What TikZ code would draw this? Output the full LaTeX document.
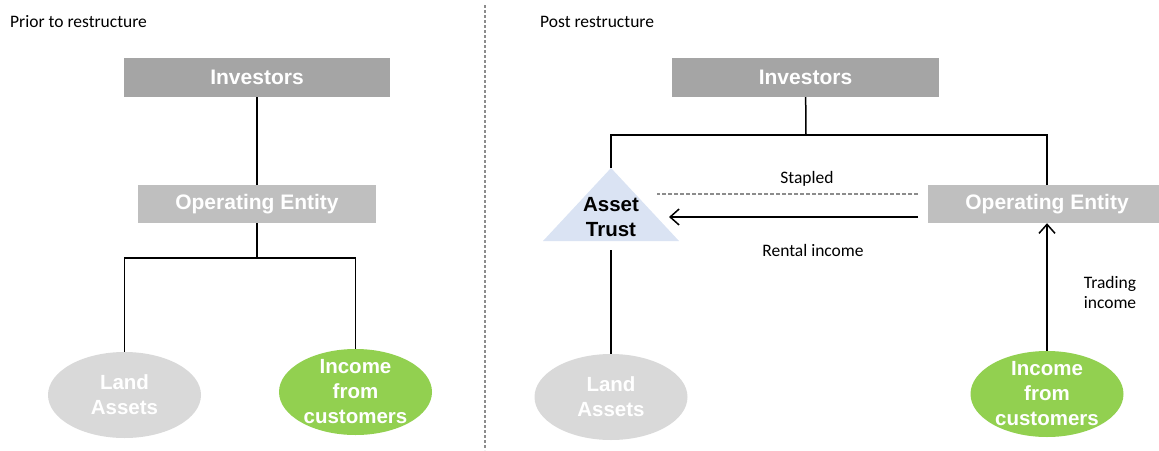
\documentclass[tikz,border=0pt]{standalone}
\usepackage{fontspec}
\setmainfont{Carlito}
\newfontfamily\boxfont{Liberation Sans}
\usetikzlibrary{positioning,arrows.meta,shapes.geometric}

\definecolor{invgray}{HTML}{A5A5A5}
\definecolor{entgray}{HTML}{BFBFBF}
\definecolor{landgray}{HTML}{D9D9D9}
\definecolor{incgreen}{HTML}{92D050}
\definecolor{trustblue}{HTML}{DAE3F3}
\definecolor{linegray}{HTML}{8C8C8C}

\begin{document}
\begin{tikzpicture}[
        x=1pt, y=-1pt,
        box/.style = {minimum width=238, minimum height=38, inner sep=0, text=white,
            font=\boxfont\bfseries\fontsize{21}{25}\selectfont},
        oval/.style = {ellipse, minimum width=153, minimum height=86, inner sep=0},
        ovaltext/.style = {align=center, text=white, inner sep=0,
            font=\boxfont\bfseries\fontsize{20.5}{25}\selectfont},
        note/.style = {align=center, inner sep=0, font=\fontsize{17.5}{20}\selectfont},
        link/.style = {line width=1.5pt},
        arrow/.style = {-{Straight Barb[length=9pt,width=16pt]}, line width=1.5pt}
    ]
    \useasboundingbox (0,0) rectangle (1159,450);

    % Dividing line and headings
    \coordinate (divtop) at (485,5);
    \coordinate (divbot) at (485,450);
    \draw[linegray, line width=1.3pt, dash pattern=on 3pt off 2pt] (divtop) -- (divbot);
    \node[note, anchor=west] (prior) at (10,22) {Prior to restructure};
    \node[note, anchor=west] (post) at (540,22) {Post restructure};

    % Prior to restructure
    \node[box, fill=invgray, minimum width=266, minimum height=39] (invL) at (257,77.5) {Investors};
    \node[box, fill=entgray] (oeL) at (257,204) {Operating Entity};
    \node[oval, fill=landgray, label={[ovaltext]center:Land\\Assets}] (landL) at (124.5,395) {};
    \node[oval, fill=incgreen, label={[ovaltext]center:Income\\from\\customers}] (incL) at (355.5,392) {};
    \coordinate (forkL) at (257,258);

    \draw[link] (invL) -- (oeL);
    \draw[link] (oeL) -- (forkL);
    \draw[link] (landL.north) |- (forkL) -| (incL.north);

    % Post restructure
    \node[box, fill=invgray, minimum width=267, minimum height=39] (invR) at (805.5,77.5) {Investors};
    \node[box, fill=entgray] (oeR) at (1047,204) {Operating Entity};
    \coordinate (trusttop) at (611,168);
    \coordinate (trustbot) at (611,250);
    \fill[trustblue] (trusttop) -- (679,241) -- (543,241) -- cycle;
    \node[align=center, inner sep=0, font=\boxfont\bfseries\fontsize{20.5}{25}\selectfont] (trust) at (611,217.5) {Asset\\Trust};
    \node[oval, fill=landgray, label={[ovaltext]center:Land\\Assets}] (landR) at (611,397) {};
    \node[oval, fill=incgreen, label={[ovaltext]center:Income\\from\\customers}] (incR) at (1047,394) {};
    \coordinate (forkR) at (806,135);

    \draw[link] (invR) -- (forkR);
    \draw[link] (trusttop) |- (forkR) -| (oeR.north);
    \draw[link] (trustbot) -- (landR.north);

    % Stapled and income flows
    \coordinate (stapS) at (918,194);
    \coordinate (stapE) at (657,194);
    \coordinate (rentS) at (918,217);
    \coordinate (rentE) at (669,217);
    \draw[linegray, line width=1.3pt, dash pattern=on 4pt off 2pt] (stapS) -- (stapE);
    \draw[arrow] (rentS) -- (rentE);
    \draw[arrow] (incR.north) -- (oeR.south);
    \node[note] (stapled) at (807,179) {Stapled};
    \node[note] (rental) at (813,250) {Rental income};
    \node[note] (trading) at (1110,292) {Trading\\income};

\end{tikzpicture}
\end{document}
